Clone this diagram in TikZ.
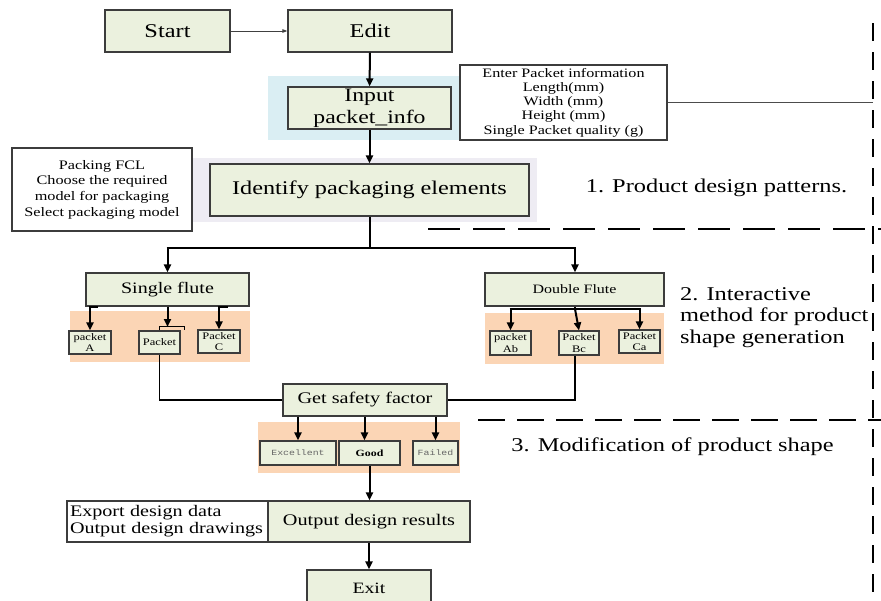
\documentclass[tikz,border=0pt]{standalone}
\usepackage{fontspec}
\setmainfont{Liberation Serif}[FakeStretch=1.25]
\setmonofont{Liberation Mono}[FakeStretch=1.25]
\usetikzlibrary{arrows.meta}
\definecolor{boxfill}{HTML}{EBF1DE}
\definecolor{boxborder}{HTML}{3C3C3C}
\definecolor{bluebg}{HTML}{DAEEF3}
\definecolor{lavbg}{HTML}{EEECF3}
\definecolor{orangebg}{HTML}{FBD5B5}
\newcommand\myfs[2]{\fontsize{#1pt}{#2pt}\selectfont}
\tikzset{
  gbox/.style={draw=boxborder, fill=boxfill, line width=1.3pt, inner sep=0pt, align=center},
  wbox/.style={draw=boxborder, fill=white, line width=1.1pt, inner sep=0pt, align=center},
  arr/.style={line width=2pt, -{Triangle[length=8pt,width=7pt]}},
  thinarr/.style={line width=0.9pt, draw=black!75, -{Triangle[length=5pt,width=3.5pt]}},
  thick line/.style={line width=2pt},
  conn/.style={line width=1.3pt},
  dashv/.style={line width=1.9pt, dash pattern=on 18pt off 11pt},
  dashh/.style={line width=1.9pt, dash pattern=on 32pt off 13pt},
  dashhb/.style={line width=1.5pt, dash pattern=on 27pt off 12pt},
  lbl/.style={inner sep=0pt, font=\myfs{19.5}{21.5}},
  pk/.style={gbox, line width=1.1pt, font=\myfs{10}{11.5}}
}
\begin{document}
\begin{tikzpicture}[x=1pt,y=-1pt]
\useasboundingbox (0,0) rectangle (881,600);
\clip (0,0) rectangle (881,600);
% backgrounds
\fill[bluebg] (268,76) rectangle (460,140);
\fill[lavbg] (193,158) rectangle (537,222);
\fill[orangebg] (70,311) rectangle (250,362);
\fill[orangebg] (485,313) rectangle (664,364);
\fill[orangebg] (258,422) rectangle (460,473);
% dashed separators
\draw[dashv] (873,23) -- (873,600);
\draw[dashh] (428,229) -- (881,229);
\draw[dashhb] (478,420) -- (881,420);
% nodes
\node[gbox, minimum width=125pt, minimum height=42pt, font=\myfs{19.5}{22}] (start) at (167.5,31) {Start};
\node[gbox, minimum width=164pt, minimum height=42pt, font=\myfs{19.5}{22}] (edit) at (370,31) {Edit};
\node[gbox, minimum width=163pt, minimum height=42pt, font=\myfs{19}{22}] (input) at (369.5,108) {Input\\packet\_info};
\node[wbox, minimum width=207pt, minimum height=75pt, font=\myfs{12.9}{14.2}] (enter) at (563.5,102.5) {Enter Packet information\\Length(mm)\\Width (mm)\\Height (mm)\\Single Packet quality (g)};
\node[wbox, minimum width=180pt, minimum height=83pt, font=\myfs{13}{15.6}] (fcl) at (102,189.5) {Packing FCL\\Choose the required\\model for packaging\\Select packaging model};
\node[gbox, minimum width=319pt, minimum height=52pt, font=\myfs{19.4}{22}] (ident) at (369.5,190) {Identify packaging elements};
\node[gbox, minimum width=163pt, minimum height=33pt, font=\myfs{16}{18}] (single) at (167.5,289.5) {Single flute};
\node[gbox, minimum width=179pt, minimum height=33pt, font=\myfs{12.8}{15}] (double) at (574.5,289.5) {Double Flute};
\node[pk, minimum width=42pt, minimum height=23pt] (pA) at (90,342.5) {packet\\A};
\node[pk, minimum width=41pt, minimum height=23pt] (pM) at (159.5,342.5) {Packet};
\node[pk, minimum width=42pt, minimum height=23pt] (pC) at (219,341.5) {Packet\\C};
\node[pk, minimum width=41pt, minimum height=24pt] (pAb) at (510.5,343) {packet\\Ab};
\node[pk, minimum width=40pt, minimum height=24pt] (pBc) at (579,343) {Packet\\Bc};
\node[pk, minimum width=41pt, minimum height=23pt] (pCa) at (639.5,341.5) {Packet\\Ca};
\node[gbox, minimum width=164pt, minimum height=32pt, font=\myfs{16.2}{18}] (safety) at (365,400) {Get safety factor};
\node[gbox, line width=1.1pt, minimum width=76pt, minimum height=24pt, font=\ttfamily\myfs{7.9}{9}, text=black!60] (exc) at (298,453) {Excellent};
\node[gbox, line width=1.1pt, minimum width=61pt, minimum height=24pt, font=\bfseries\myfs{9.5}{11}] (good) at (369.5,453) {Good};
\node[gbox, line width=1.1pt, minimum width=45pt, minimum height=24pt, font=\ttfamily\myfs{7.9}{9}, text=black!60] (fail) at (435.5,453) {Failed};
\node[wbox, minimum width=201pt, minimum height=41pt, font=\myfs{16.1}{17}, align=left, text width=195pt] (export) at (167.5,521.5) {Export design data\\Output design drawings};
\node[gbox, minimum width=202pt, minimum height=41pt, font=\myfs{16.2}{18}] (output) at (369,521.5) {Output design results};
\node[gbox, minimum width=124pt, minimum height=36pt, font=\myfs{15.8}{18}] (exit) at (369,588) {Exit};
% section labels
\node[lbl] (t1) at (716.5,188) {1. Product design patterns.};
\node[lbl, align=left, anchor=west] (t2) at (680,317.5) {2. Interactive\\method for product\\shape generation};
\node[lbl] (t3) at (672.5,447) {3. Modification of product shape};
% connectors
\draw[thinarr] (start) -- (edit);
\draw[arr] (edit) -- (input);
\draw[arr] (input) -- (ident);
\coordinate (jl) at (167.5,248);
\coordinate (jr) at (575,248);
\draw[thick line] (ident.south) -- (ident.south |- jl);
\draw[thick line] ([xshift=-1pt]jl) -- ([xshift=1pt]jr);
\draw[arr] (jl) -- (single.north);
\draw[arr] (jr) -- (jr |- double.north);
% single flute branches
\draw[arr] ([xshift=8pt]pA.north |- single.south) -- (pA.north |- single.south) -- (pA.north);
\draw[line width=0.8pt] (pM.north) -- ++(0,-4) -| ([xshift=4pt]pM.north east);
\coordinate (br) at (167.5,327);
\draw[arr] (single.south) -- (br);
\draw[arr] ([xshift=9pt]pC.north |- single.south) -- (pC.north |- single.south) -- (pC.north);
% double flute branches
\coordinate (dj) at (575,309);
\draw[thick line] (jr |- double.south) -- (dj);
\draw[thick line] ([xshift=-1pt]pAb.north |- dj) -- ([xshift=1pt]pCa.north |- dj);
\draw[arr] (pAb.north |- dj) -- (pAb.north);
\draw[arr] (dj) -- (pBc.north);
\draw[arr] (pCa.north |- dj) -- (pCa.north);
% to safety factor
\draw[conn] (pM.south) |- (safety.west);
\draw[conn] (safety.east) -| ([xshift=-4pt]pBc.south);
\draw[arr] (exc.north |- safety.south) -- (exc.north);
\draw[arr] ([xshift=-5pt]good.north |- safety.south) -- ([xshift=-5pt]good.north);
\draw[arr] (fail.north |- safety.south) -- (fail.north);
\draw[arr] (good.south) -- (good.south |- output.north);
\draw[arr] (output) -- (exit);
% info connector
\coordinate (vd) at (873,102.5);
\draw[line width=0.8pt, draw=black!70] (enter.east) -- (vd);
\end{tikzpicture}
\end{document}
